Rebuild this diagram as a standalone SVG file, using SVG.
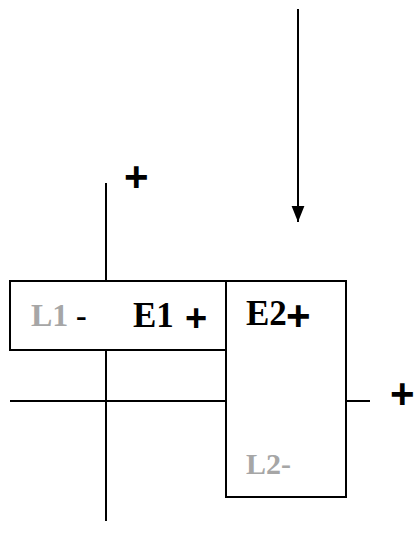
<svg xmlns="http://www.w3.org/2000/svg" width="414" height="542" viewBox="0 0 414 542">
<defs>
<marker id="ah" markerWidth="16" markerHeight="22" refX="20" refY="8" orient="auto" markerUnits="userSpaceOnUse" viewBox="0 0 20 16">
<path d="M0,0 L20,8 L0,16 z" fill="#000"/>
</marker>
<style>
.ln{stroke:#000;stroke-width:2;fill:none}
.bx{stroke:#000;stroke-width:2;fill:#fff}
.b{font-family:"Liberation Serif",serif;font-weight:bold;fill:#000}
.g{font-family:"Liberation Serif",serif;font-weight:bold;fill:#a6a6a6}
.p{font-family:"Liberation Sans",Arial,sans-serif;font-weight:bold;fill:#000}
</style>
</defs>
<g id="connectors">
<line class="ln" x1="106" y1="183" x2="106" y2="521"/>
<line class="ln" x1="10" y1="401" x2="226" y2="401"/>
<line class="ln" x1="346" y1="401" x2="370" y2="401"/>
<line class="ln" x1="298" y1="9" x2="298" y2="222" marker-end="url(#ah)"/>
</g>
<g id="E1">
<rect class="bx" x="10" y="281" width="217" height="69"/>
<text class="g" x="31" y="326" font-size="32">L1</text>
<text class="b" x="76" y="326" font-size="32">-</text>
<text class="b" x="133" y="327" font-size="35">E1</text>
<text class="p" x="185" y="331" font-size="38">+</text>
</g>
<g id="E2">
<rect class="bx" x="226" y="281" width="120" height="216"/>
<text class="b" x="246" y="325" font-size="35">E2</text>
<text class="p" x="286" y="330" font-size="42">+</text>
<text class="g" x="246" y="474" font-size="30">L2-</text>
</g>
<g id="labels">
<text class="p" x="124" y="191" font-size="42">+</text>
<text class="p" x="390" y="408" font-size="42">+</text>
</g>
</svg>
